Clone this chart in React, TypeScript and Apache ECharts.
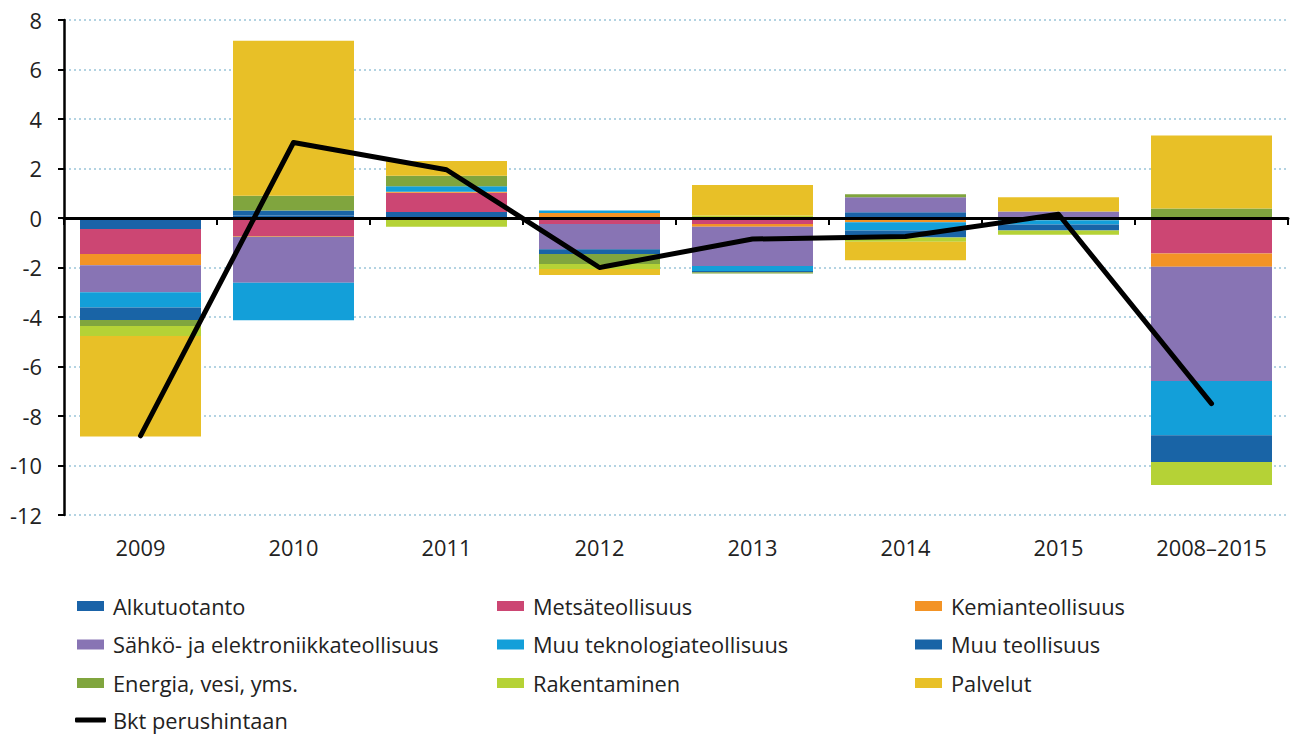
import React, { useEffect, useRef } from "react";
import * as echarts from "echarts";

const categories = ["2009", "2010", "2011", "2012", "2013", "2014", "2015", "2008–2015"];

const alkutuotanto = [-0.44, 0.1, 0.24, 0, 0, 0.23, -0.05, 0];
const metsateollisuus = [-1.01, -0.73, 0.78, -0.24, -0.24, 0, 0, -1.43];
const kemianteollisuus = [-0.46, -0.03, 0.04, 0.2, -0.11, -0.17, -0.04, -0.54];
const sahko = [-1.09, -1.86, -0.08, -1.02, -1.59, 0.61, 0.26, -4.62];
const muuTekno = [-0.62, -1.51, 0.22, 0.1, -0.2, -0.34, -0.17, -2.19];
const muuTeollisuus = [-0.5, 0.2, 0, -0.19, -0.05, -0.28, -0.24, -1.08];
const energia = [-0.24, 0.6, 0.43, -0.41, -0.05, 0.12, 0, 0.38];
const rakentaminen = [-0.41, 0, -0.27, -0.2, 0.1, -0.17, -0.18, -0.93];
const palvelut = [-4.06, 6.26, 0.59, -0.24, 1.23, -0.75, 0.58, 2.95];
const bkt = [-8.8, 3.05, 1.95, -2.0, -0.85, -0.75, 0.15, -7.5];

const barSeries = [
  { name: "Alkutuotanto", data: alkutuotanto, color: "#1a63a8" },
  { name: "Metsäteollisuus", data: metsateollisuus, color: "#cc4673" },
  { name: "Kemianteollisuus", data: kemianteollisuus, color: "#f39325" },
  { name: "Sähkö- ja elektroniikkateollisuus", data: sahko, color: "#8874b4" },
  { name: "Muu teknologiateollisuus", data: muuTekno, color: "#139fd9" },
  { name: "Muu teollisuus", data: muuTeollisuus, color: "#1964a6" },
  { name: "Energia, vesi, yms.", data: energia, color: "#80a53e" },
  { name: "Rakentaminen", data: rakentaminen, color: "#b5d236" },
  { name: "Palvelut", data: palvelut, color: "#e8c027" },
];

const yTicks = { min: -12, max: 8, interval: 2 };

const FONT = "Open Sans";
const TEXT = "#222222";
const FS = 21.8;

export default function App() {
  const ref = useRef<HTMLDivElement>(null);
  useEffect(() => {
    if (!ref.current) return;
    const chart = echarts.init(ref.current, undefined, { renderer: "svg" });
    const legendCommon = {
      orient: "vertical" as const,
      top: 594,
      padding: 0,
      itemWidth: 27,
      itemHeight: 10,
      itemGap: 14.5,
      icon: "rect",
      textStyle: { fontFamily: FONT, fontSize: FS, color: TEXT, lineHeight: 24, padding: [0, 0, 0, 4] },
      selectedMode: false,
    };
    chart.setOption({
      animation: false,
      textStyle: { fontFamily: FONT },
      grid: { left: 64, right: 3, top: 20, bottom: 220 },
      legend: [
        {
          ...legendCommon,
          left: 77,
          data: ["Alkutuotanto", "Sähkö- ja elektroniikkateollisuus", "Energia, vesi, yms."],
        },
        {
          ...legendCommon,
          left: 497,
          data: ["Metsäteollisuus", "Muu teknologiateollisuus", "Rakentaminen"],
        },
        {
          ...legendCommon,
          left: 915,
          data: ["Kemianteollisuus", "Muu teollisuus", "Palvelut"],
        },
        {
          ...legendCommon,
          top: 708,
          left: 75,
          itemWidth: 31,
          itemHeight: 5,
          icon: "roundRect",
          textStyle: { ...legendCommon.textStyle, padding: [0, 0, 0, 2] },
          data: ["Bkt perushintaan"],
        },
      ],
      xAxis: [
        {
          type: "category",
          data: categories,
          position: "bottom",
          axisLine: { show: false, onZero: false },
          axisTick: { show: false },
          axisLabel: { fontFamily: FONT, fontSize: FS, color: TEXT, margin: 21 },
        },
        {
          type: "category",
          data: categories,
          position: "bottom",
          z: 4,
          axisLine: { show: true, onZero: true, lineStyle: { color: "#000", width: 3 } },
          axisTick: { show: true, length: 7, lineStyle: { color: "#000", width: 2 } },
          axisLabel: { show: false },
        },
      ],
      yAxis: {
        type: "value",
        min: yTicks.min,
        max: yTicks.max,
        interval: yTicks.interval,
        axisLine: { show: true, lineStyle: { color: "#000", width: 2.5 } },
        axisTick: { show: true, length: 6, lineStyle: { color: "#000", width: 2 } },
        axisLabel: { fontFamily: FONT, fontSize: FS, color: TEXT, margin: 22 },
        splitLine: { show: true, lineStyle: { color: "#b3d3e2", width: 2, type: [2, 3] } },
      },
      series: [
        ...barSeries.map((s) => ({
          name: s.name,
          type: "bar",
          stack: "total",
          data: s.data,
          barWidth: 121,
          itemStyle: { color: s.color },
          xAxisIndex: 0,
          z: 2,
        })),
        {
          name: "Bkt perushintaan",
          type: "line",
          data: bkt,
          symbol: "none",
          xAxisIndex: 0,
          z: 6,
          lineStyle: { color: "#000", width: 5, join: "round", cap: "round" },
          itemStyle: { color: "#000" },
        },
      ],
    });
    return () => chart.dispose();
  }, []);
  return (
    <div
      ref={ref}
      style={{ position: "absolute", left: 0, top: 0, width: 1291, height: 735, background: "#fff" }}
    />
  );
}
